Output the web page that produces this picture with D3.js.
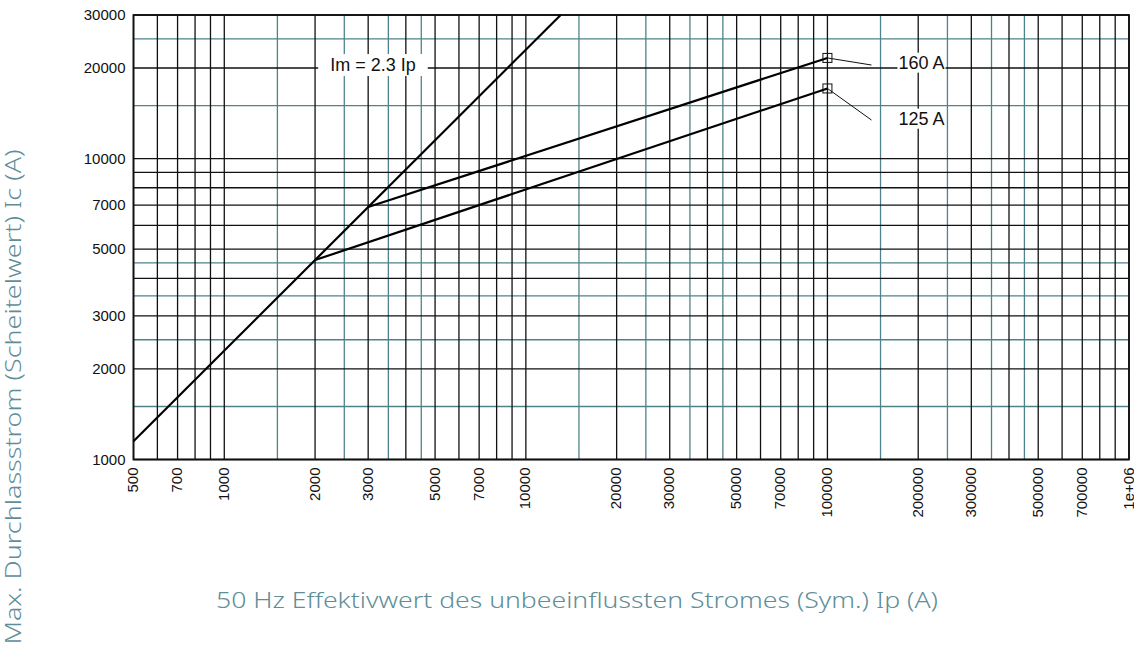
<!DOCTYPE html>
<html>
<head>
<meta charset="utf-8">
<script src="https://cdn.jsdelivr.net/npm/d3@7"></script>
<style>
  body { margin: 0; background: #fff; }
  svg text { font-family: "Liberation Sans", Arial, sans-serif; }
</style>
</head>
<body>
<svg id="chart" width="1134" height="652"></svg>
<script>
// tick labels
const xTicks = [500, 700, 1000, 2000, 3000, 5000, 7000, 10000, 20000, 30000, 50000, 70000,
                100000, 200000, 300000, 500000, 700000, 1000000];
const yTicks = [1000, 2000, 3000, 5000, 7000, 10000, 20000, 30000];

// grid lines (black = major/minor, teal = half steps)
const xGridBlack = [500, 600, 700, 800, 900,
  1000, 2000, 3000, 4000, 5000, 6000, 7000, 8000, 9000,
  10000, 20000, 30000, 40000, 50000, 60000, 70000, 80000, 90000,
  100000, 200000, 300000, 400000, 500000, 600000, 700000, 800000, 900000, 1000000];
const xGridTeal = [1500, 2500, 3500, 4500, 15000, 25000, 35000, 45000,
  150000, 250000, 350000, 450000];
const yGridBlack = [1000, 2000, 3000, 4000, 5000, 6000, 7000, 8000, 9000, 10000, 20000, 30000];
const yGridTeal = [1500, 2500, 3500, 4500, 15000, 25000];

// curves: Ip, Ic
const imLine = [[500, 1150], [13043, 30000]];   // Im = 2.3 Ip
const curve125 = [[2000, 4600], [100000, 17100]];
const curve160 = [[3000, 6900], [100000, 21600]];

// annotations
const labels = [
  { text: "160 A", at: [100000, 21600], leader: [140000, 20460], pos: [172000, 20880] },
  { text: "125 A", at: [100000, 17100], leader: [140000, 13430], pos: [172000, 13600] }
];
const imLabel = { text: "Im = 2.3 Ip", pos: [2245, 20500] };

const svg = d3.select("#chart");
const mLeft = 133.5, mRight = 1129, mTop = 15, mBottom = 459.5;

const x = d3.scaleLog().domain([500, 1000000]).range([mLeft, mRight]);
const y = d3.scaleLog().domain([1000, 30000]).range([mBottom, mTop]);

const teal = "#4f838b";
const g = svg.append("g");

// teal grid
g.selectAll(".xt").data(xGridTeal).enter().append("line")
  .attr("x1", d => x(d)).attr("x2", d => x(d)).attr("y1", mTop).attr("y2", mBottom)
  .attr("stroke", teal).attr("stroke-width", 1.3);
g.selectAll(".yt").data(yGridTeal).enter().append("line")
  .attr("y1", d => y(d)).attr("y2", d => y(d)).attr("x1", mLeft).attr("x2", mRight)
  .attr("stroke", teal).attr("stroke-width", 1.3);

// black grid
g.selectAll(".xb").data(xGridBlack).enter().append("line")
  .attr("x1", d => x(d)).attr("x2", d => x(d)).attr("y1", mTop).attr("y2", mBottom)
  .attr("stroke", "#111").attr("stroke-width", 1.3);
g.selectAll(".yb").data(yGridBlack).enter().append("line")
  .attr("y1", d => y(d)).attr("y2", d => y(d)).attr("x1", mLeft).attr("x2", mRight)
  .attr("stroke", "#111").attr("stroke-width", 1.3);

// frame
g.append("rect").attr("x", mLeft).attr("y", mTop)
  .attr("width", mRight - mLeft).attr("height", mBottom - mTop)
  .attr("fill", "none").attr("stroke", "#111").attr("stroke-width", 1.8);

// y tick labels
g.selectAll(".ylab").data(yTicks).enter().append("text")
  .attr("x", mLeft - 8).attr("y", d => y(d)).attr("dy", "0.35em")
  .attr("text-anchor", "end").attr("font-size", 15).attr("fill", "#111")
  .text(d => d);

// x tick labels (rotated)
g.selectAll(".xlab").data(xTicks).enter().append("text")
  .attr("transform", d => `translate(${x(d)},${mBottom + 8}) rotate(-90)`)
  .attr("dy", "0.3em")
  .attr("text-anchor", "end").attr("font-size", 15).attr("fill", "#111")
  .text(d => d === 1000000 ? "1e+06" : d);

// curves
const line = d3.line().x(d => x(d[0])).y(d => y(d[1]));
[imLine, curve125, curve160].forEach(c => {
  g.append("path").attr("d", line(c)).attr("fill", "none")
    .attr("stroke", "#000").attr("stroke-width", 2.2);
});

// text with a white box behind it
function boxedText(txt, px, py, pad) {
  const t = g.append("text").attr("x", px).attr("y", py).attr("dy", "0.35em")
    .attr("font-size", 18).attr("fill", "#111").text(txt);
  const b = t.node().getBBox();
  g.insert("rect", () => t.node())
    .attr("x", b.x - pad[0]).attr("y", b.y - pad[1])
    .attr("width", b.width + 2 * pad[0]).attr("height", b.height + 2 * pad[1])
    .attr("fill", "#fff");
}
boxedText(imLabel.text, x(imLabel.pos[0]), y(imLabel.pos[1]), [12, 1]);

// leaders, markers, curve labels
labels.forEach(l => {
  g.append("line")
    .attr("x1", x(l.at[0])).attr("y1", y(l.at[1]))
    .attr("x2", x(l.leader[0])).attr("y2", y(l.leader[1]))
    .attr("stroke", "#111").attr("stroke-width", 1);
  g.append("rect")
    .attr("x", x(l.at[0]) - 4.5).attr("y", y(l.at[1]) - 4.5)
    .attr("width", 9).attr("height", 9)
    .attr("fill", "none").attr("stroke", "#111").attr("stroke-width", 1);
  boxedText(l.text, x(l.pos[0]), y(l.pos[1]), [1, 0]);
});

// axis titles
svg.append("text")
  .attr("x", 577).attr("y", 608)
  .attr("text-anchor", "middle")
  .attr("textLength", 722).attr("lengthAdjust", "spacingAndGlyphs")
  .style("font-family", "'Noto Sans', sans-serif").style("font-weight", 300)
  .attr("font-size", 21).attr("fill", "#5f8e98")
  .text("50 Hz Effektivwert des unbeeinflussten Stromes (Sym.) Ip (A)");
svg.append("text")
  .attr("transform", "translate(21,397) rotate(-90)")
  .attr("text-anchor", "middle")
  .attr("textLength", 495).attr("lengthAdjust", "spacingAndGlyphs")
  .style("font-family", "'Noto Sans', sans-serif").style("font-weight", 300)
  .attr("font-size", 21).attr("fill", "#5f8e98")
  .text("Max. Durchlassstrom (Scheitelwert) Ic (A)");
</script>
</body>
</html>
